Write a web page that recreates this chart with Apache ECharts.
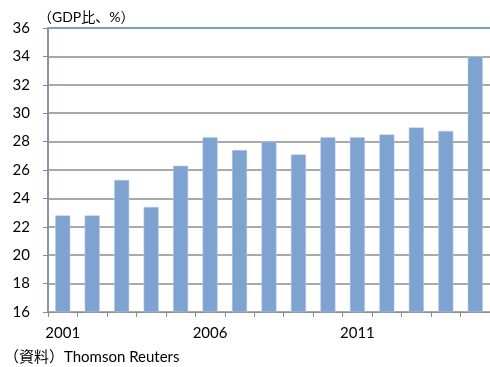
<!DOCTYPE html>
<html>
<head>
<meta charset="utf-8">
<script src="https://cdn.jsdelivr.net/npm/echarts@6/dist/echarts.min.js"></script>
<style>
  html, body { margin: 0; padding: 0; background: #fff; }
  #chart { width: 490px; height: 367px; }
</style>
</head>
<body>
<div id="chart"></div>
<script>
// データ（GDP比、%）
const years = ['2001', '2002', '2003', '2004', '2005', '2006', '2007', '2008',
               '2009', '2010', '2011', '2012', '2013', '2014', '2015']
const values = [22.8, 22.8, 25.3, 23.4, 26.3, 28.3, 27.4, 28.0,
                27.1, 28.3, 28.3, 28.5, 29.0, 28.75, 34.0]
const yMin = 16
const yMax = 36
const yStep = 2

const font = 'Lato, "Noto Sans CJK JP", sans-serif'

// 横線の色：最上段だけ青
const gridColors = []
for (let v = yMin; v <= yMax; v += yStep) gridColors.push(v === yMax ? '#4a7ebb' : '#8c8c8c')

const chart = echarts.init(document.getElementById('chart'))
chart.setOption({
  animation: false,
  grid: { left: 48, right: 0, top: 28, bottom: 55 },
  graphic: [
    { type: 'text', left: 38, top: 10,
      style: { text: '（GDP比、%）', font: '14px ' + font, fill: '#000' } },
    { type: 'text', left: 4, top: 350,
      style: { text: '（資料）Thomson Reuters', font: '15px ' + font, fill: '#000' } }
  ],
  xAxis: {
    type: 'category',
    data: years,
    boundaryGap: true,
    axisLine: { lineStyle: { color: '#8c8c8c', width: 1 } },
    axisTick: { show: true, interval: 0, length: 5, lineStyle: { color: '#8c8c8c' } },
    axisLabel: { interval: 4, color: '#000', fontSize: 15, fontFamily: font, margin: 14 }
  },
  yAxis: {
    type: 'value',
    min: yMin,
    max: yMax,
    interval: yStep,
    axisLine: { show: true, lineStyle: { color: '#8497b0', width: 2 } },
    axisTick: { show: true, inside: false, length: 5, lineStyle: { color: '#8c8c8c' } },
    axisLabel: { color: '#000', fontSize: 15, fontFamily: font, margin: 18 },
    splitLine: { show: true, lineStyle: { color: gridColors, width: 1.5 } }
  },
  series: [{
    type: 'bar',
    data: values,
    barWidth: '51%',
    itemStyle: { color: '#7fa3d0', borderColor: '#b9cde6', borderWidth: 0.5 }
  }]
})
</script>
</body>
</html>
